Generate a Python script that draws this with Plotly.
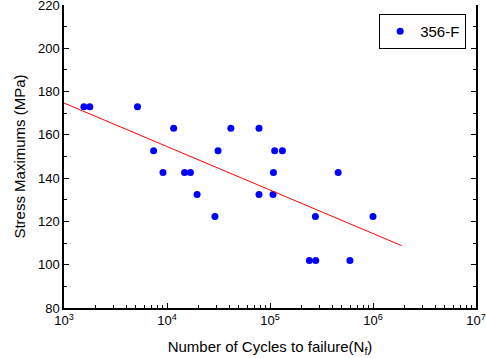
import plotly.graph_objects as go

# Data
cycles = [1560, 1780, 5170, 11600, 41700, 78200,
          7410, 31300, 111000, 132000,
          9140, 14800, 16900, 108000, 459000,
          19600, 78200, 107000,
          29200, 276000, 1000000,
          241000, 278000, 597000]
stress = [173, 173, 173, 163, 163, 163,
          152.7, 152.7, 152.7, 152.7,
          142.6, 142.6, 142.6, 142.6, 142.6,
          132.4, 132.4, 132.4,
          122.3, 122.3, 122.3,
          101.9, 101.9, 101.9]
fit_x = [1000, 1.9e6]
fit_y = [174.7, 108.8]

x_tickvals = [1e3, 1e4, 1e5, 1e6, 1e7]
x_ticktext = ["10<sup>3</sup>", "10<sup>4</sup>", "10<sup>5</sup>", "10<sup>6</sup>", "10<sup>7</sup>"]

font_family = "Liberation Sans, Arial, sans-serif"

fig = go.Figure()
fig.add_trace(go.Scatter(x=cycles, y=stress, mode="markers", name="356-F",
                         marker=dict(color="#0000ff", size=7, symbol="circle")))
fig.add_trace(go.Scatter(x=fit_x, y=fit_y, mode="lines", showlegend=False,
                         line=dict(color="#ff0000", width=1)))

fig.update_layout(
    width=486, height=358,
    margin=dict(l=64, r=10, t=4.5, b=50, autoexpand=False),
    paper_bgcolor="white", plot_bgcolor="white",
    font=dict(family=font_family, size=13, color="black"),
    showlegend=True,
    legend=dict(x=0.765, y=0.97, xanchor="left", yanchor="top",
                bordercolor="black", borderwidth=1, bgcolor="white",
                font=dict(size=15), itemwidth=30,
                tracegroupgap=0),
    xaxis=dict(type="log", range=[3, 7], tickvals=x_tickvals, ticktext=x_ticktext,
               automargin=False,
               showline=True, linecolor="black", linewidth=1.5, mirror=False,
               ticks="inside", ticklen=5, tickcolor="black", showgrid=False,
               zeroline=False,
               minor=dict(ticks="inside", ticklen=3, tickcolor="black", dtick="D1", showgrid=False),
               title=dict(text="Number of Cycles to failure(N<sub>f</sub>)", font=dict(size=15), standoff=14)),
    yaxis=dict(range=[80, 220], dtick=20, tick0=80, ticklabeloverflow="allow",
               automargin=False,
               showline=True, linecolor="black", linewidth=1.5, mirror="ticks",
               ticks="inside", ticklen=5, tickcolor="black", showgrid=False,
               zeroline=False,
               minor=dict(ticks="inside", ticklen=3, tickcolor="black", dtick=10, showgrid=False),
               title=dict(text="Stress Maximums (MPa)", font=dict(size=15), standoff=9)),
)

fig.write_html("out.html")
